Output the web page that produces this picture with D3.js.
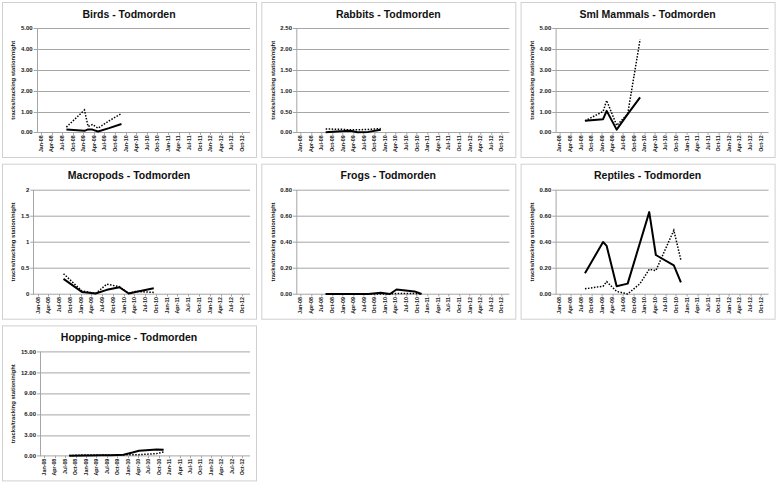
<!DOCTYPE html>
<html>
<head>
<meta charset="utf-8">
<script src="https://cdn.jsdelivr.net/npm/d3@7"></script>
<style>
  body { margin: 0; background: #fff; }
  svg { display: block; font-family: "Liberation Sans", Arial, sans-serif; }
</style>
</head>
<body>
<svg class="chart"></svg>
<script>
// DATA /////////////////////////////////////////
const quarterLabels = [
  "Jan-08", "Apr-08", "Jul-08", "Oct-08", "Jan-09", "Apr-09", "Jul-09", "Oct-09",
  "Jan-10", "Apr-10", "Jul-10", "Oct-10", "Jan-11", "Apr-11", "Jul-11", "Oct-11",
  "Jan-12", "Apr-12", "Jul-12", "Oct-12"
];

// survey dates
const datesTo2009 = ["2008-08-07", "2009-01-10", "2009-02-10", "2009-03-20", "2009-05-07", "2009-08-10", "2009-11-25"];
const datesTo2010 = ["2008-08-07", "2009-01-10", "2009-02-10", "2009-03-20", "2009-05-07", "2009-08-10", "2009-11-25",
  "2010-02-12", "2010-04-10", "2010-09-12", "2010-11-12"];

const titles = [
  "Birds - Todmorden", "Rabbits - Todmorden", "Sml Mammals - Todmorden",
  "Macropods - Todmorden", "Frogs - Todmorden", "Reptiles - Todmorden",
  "Hopping-mice - Todmorden"
];
const yMaxes = [5, 2.5, 5, 2, 0.8, 0.8, 15];
const ySteps = [1, 0.5, 1, 0.5, 0.2, 0.2, 3];

// solid / dotted series (null = no survey shown)
const birdsSolid = [0.14, 0.07, 0.14, 0.13, 0.04, 0.2, 0.4];
const birdsDotted = [0.25, 1.07, 0.28, 0.37, 0.2, 0.55, 0.9];
const rabbitsSolid = [0.0, 0.03, 0.04, 0.03, 0.0, 0.01, 0.06];
const rabbitsDotted = [0.08, 0.07, 0.06, 0.06, 0.06, 0.07, 0.09];
const mammalsSolid = [0.55, 0.63, 1.03, null, 0.13, 0.87, 1.68];
const mammalsDotted = [0.55, 1.0, 1.53, null, 0.33, 0.88, 4.45];
const macropodsSolid = [0.29, 0.04, null, null, 0.01, 0.08, 0.13, 0.01, 0.04, 0.11, null];
const macropodsDotted = [0.39, 0.06, null, null, 0.01, 0.19, 0.14, 0.01, 0.05, 0.03, null];
const frogsSolid = [0, 0, 0, null, 0, 0, 0.01, 0.0, 0.035, 0.02, 0.0];
const frogsDotted = [0, 0, 0, null, 0, 0, 0, 0, 0.004, 0.004, 0.0];
const reptilesSolid = [0.16, 0.4, 0.37, null, 0.06, 0.08, null, 0.63, 0.3, 0.22, 0.09];
const reptilesDotted = [0.04, 0.06, 0.095, null, 0.02, 0.0, 0.08, 0.19, 0.18, 0.49, 0.26];
const hoppingSolid = [0.0, 0.03, 0.04, null, 0.05, 0.06, 0.15, 0.45, 0.72, 0.88, 0.85];
const hoppingDotted = [0.02, 0.12, 0.1, null, 0.08, 0.1, 0.12, 0.15, 0.15, 0.3, 0.55];

// DEFINITIONS //////////////////////////////////
const parseDay = d3.timeParse("%Y-%m-%d");
const parseTick = d3.timeParse("%b-%y");

const panels = [
  { dates: datesTo2009, solid: birdsSolid, dotted: birdsDotted },
  { dates: datesTo2009, solid: rabbitsSolid, dotted: rabbitsDotted },
  { dates: datesTo2009, solid: mammalsSolid, dotted: mammalsDotted },
  { dates: datesTo2010, solid: macropodsSolid, dotted: macropodsDotted },
  { dates: datesTo2010, solid: frogsSolid, dotted: frogsDotted },
  { dates: datesTo2010, solid: reptilesSolid, dotted: reptilesDotted },
  { dates: datesTo2010, solid: hoppingSolid, dotted: hoppingDotted }
].map((p, i) => ({
  ...p,
  title: titles[i],
  yMax: yMaxes[i],
  yStep: ySteps[i],
  fmt: i === 3 ? d3.format("") : d3.format(".2f")
}));

const svg = d3.select(".chart").attr("width", 778).attr("height", 484);

const colStep = 259.3;
const rowStep = 161.7;
const frameW = 254;
const frameH = 155;
const plotTop = 26.3;
const plotBottom = 130.3;
const plotRight = 248;
const gridColor = "#a6a6a6";

const xDomain = [parseDay("2007-11-25"), parseDay("2012-12-07")];
const tickDates = quarterLabels.map(parseTick);

// DRAW PANELS //////////////////////////////////
panels.forEach((p, i) => {
  const fx = 2 + (i % 3) * colStep;
  const fy = 2 + Math.floor(i / 3) * rowStep;
  const g = svg.append("g").attr("transform", `translate(${fx}, ${fy})`);

  g.append("rect")
    .attr("x", 0.5)
    .attr("y", 0.5)
    .attr("width", frameW)
    .attr("height", frameH)
    .attr("fill", "#fff")
    .attr("stroke", "#d0d0d0");

  const yTicks = d3.range(0, p.yMax + p.yStep / 2, p.yStep);

  // measure the widest tick label so the plot area starts after it (like Excel)
  const tmp = g.append("g").attr("font-size", 6).attr("font-weight", "bold");
  let maxW = 0;
  yTicks.forEach((t) => {
    const tx = tmp.append("text").text(p.fmt(t));
    maxW = Math.max(maxW, tx.node().getComputedTextLength());
  });
  tmp.remove();
  const plotLeft = 19 + maxW + 4;

  const x = d3.scaleTime().domain(xDomain).range([plotLeft, plotRight]);
  const y = d3.scaleLinear().domain([0, p.yMax]).range([plotBottom, plotTop]);

  // gridlines
  g.append("g")
    .selectAll("line")
    .data(yTicks)
    .join("line")
    .attr("x1", plotLeft - 3)
    .attr("x2", plotRight)
    .attr("y1", (d) => Math.round(y(d)) + 0.5)
    .attr("y2", (d) => Math.round(y(d)) + 0.5)
    .attr("stroke", gridColor)
    .attr("stroke-width", 1);

  // y axis line
  g.append("line")
    .attr("x1", Math.round(plotLeft) + 0.5)
    .attr("x2", Math.round(plotLeft) + 0.5)
    .attr("y1", plotTop)
    .attr("y2", plotBottom + 0.5)
    .attr("stroke", gridColor);

  // y tick labels
  g.append("g")
    .attr("font-size", 6)
    .attr("font-weight", "bold")
    .attr("fill", "#1a1a1a")
    .attr("text-anchor", "end")
    .selectAll("text")
    .data(yTicks)
    .join("text")
    .attr("x", plotLeft - 4)
    .attr("y", (d) => y(d))
    .attr("dy", "0.35em")
    .text((d) => p.fmt(d));

  // x ticks and labels
  g.append("g")
    .selectAll("line")
    .data(tickDates)
    .join("line")
    .attr("x1", (d) => Math.round(x(d)) + 0.5)
    .attr("x2", (d) => Math.round(x(d)) + 0.5)
    .attr("y1", plotBottom)
    .attr("y2", plotBottom + 2.5)
    .attr("stroke", gridColor);

  g.append("g")
    .attr("font-size", 5.3)
    .attr("font-weight", "bold")
    .attr("fill", "#1a1a1a")
    .attr("text-anchor", "end")
    .selectAll("text")
    .data(quarterLabels)
    .join("text")
    .attr("transform", (d, k) => `translate(${x(tickDates[k])}, ${plotBottom + 3}) rotate(-90)`)
    .attr("dy", "0.35em")
    .text((d) => d);

  // axis title
  g.append("text")
    .attr("transform", `translate(11.3, ${(plotTop + plotBottom) / 2}) rotate(-90)`)
    .attr("text-anchor", "middle")
    .attr("dy", "0.35em")
    .attr("font-size", 5.9)
    .attr("font-weight", "bold")
    .attr("fill", "#111")
    .text("tracks/tracking station/night");

  // chart title
  g.append("text")
    .attr("x", 127)
    .attr("y", 15.8)
    .attr("text-anchor", "middle")
    .attr("font-size", 10.5)
    .attr("font-weight", "bold")
    .attr("fill", "#111")
    .text(p.title);

  // series
  const pts = (vals) =>
    p.dates
      .map((d, k) => ({ date: parseDay(d), v: vals[k] }))
      .filter((d) => d.v !== null);

  const line = d3
    .line()
    .x((d) => x(d.date))
    .y((d) => y(d.v));

  g.append("path")
    .attr("d", line(pts(p.dotted)))
    .attr("fill", "none")
    .attr("stroke", "#000")
    .attr("stroke-width", 1.5)
    .attr("stroke-dasharray", "1.5,1.5");

  g.append("path")
    .attr("d", line(pts(p.solid)))
    .attr("fill", "none")
    .attr("stroke", "#000")
    .attr("stroke-width", 2)
    .attr("stroke-linejoin", "round");
});
</script>
</body>
</html>
